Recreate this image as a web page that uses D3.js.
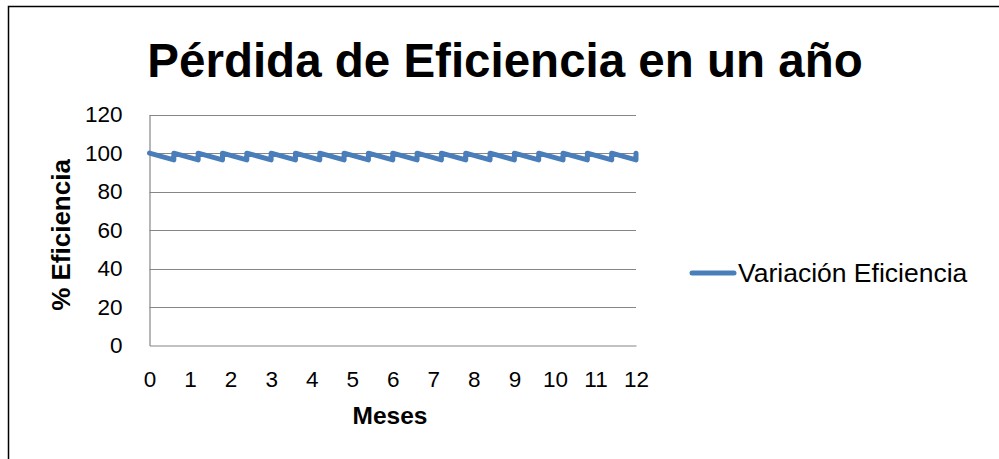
<!DOCTYPE html>
<html>
<head>
<meta charset="utf-8">
<script src="https://cdn.jsdelivr.net/npm/d3@7"></script>
<style>
  body { margin: 0; background: #fff; }
  text { font-family: "Liberation Sans", Arial, sans-serif; fill: #000; }
</style>
</head>
<body>
<svg class="chart" width="999" height="459"></svg>
<script>
// Data: sawtooth, each tooth ~0.6 months
const months = [0, 0.6, 0.6, 1.2, 1.2, 1.8, 1.8, 2.4, 2.4, 3, 3, 3.6, 3.6, 4.2, 4.2,
  4.8, 4.8, 5.4, 5.4, 6, 6, 6.6, 6.6, 7.2, 7.2, 7.8, 7.8, 8.4, 8.4, 9, 9,
  9.6, 9.6, 10.2, 10.2, 10.8, 10.8, 11.4, 11.4, 12, 12];
const efficiency = [100, 96.5, 100, 96.5, 100, 96.5, 100, 96.5, 100, 96.5, 100,
  96.5, 100, 96.5, 100, 96.5, 100, 96.5, 100, 96.5, 100, 96.5, 100, 96.5, 100,
  96.5, 100, 96.5, 100, 96.5, 100, 96.5, 100, 96.5, 100, 96.5, 100, 96.5, 100,
  96.5, 100];
const xTicks = [0, 1, 2, 3, 4, 5, 6, 7, 8, 9, 10, 11, 12];
const yTicks = [0, 20, 40, 60, 80, 100, 120];
const seriesName = "Variación Eficiencia";

const data = months.map((m, i) => ({ month: m, value: efficiency[i] }));

// Plot area
const plot = { left: 149.5, right: 636, top: 114.7, bottom: 345.5 };

const svg = d3.select(".chart");

// outer chart border (only left and top visible in the crop)
svg.append("path")
  .attr("d", "M8.5,459 L8.5,6.5 L999,6.5")
  .attr("fill", "none")
  .attr("stroke", "#000")
  .attr("stroke-width", 1.5);

const xScale = d3.scaleLinear().domain([0, 12]).range([plot.left, plot.right]);
const yScale = d3.scaleLinear().domain([0, 120]).range([plot.bottom, plot.top]);

// gridlines
svg.append("g")
  .selectAll("line")
  .data(yTicks.filter((d) => d > 0))
  .enter()
  .append("line")
  .attr("x1", plot.left)
  .attr("x2", plot.right)
  .attr("y1", (d) => Math.round(yScale(d)) + 0.5)
  .attr("y2", (d) => Math.round(yScale(d)) + 0.5)
  .attr("stroke", "#868686")
  .attr("stroke-width", 1.2);

// y axis
const yAxis = svg.append("g")
  .attr("transform", `translate(${plot.left},0)`)
  .call(d3.axisLeft(yScale).tickValues(yTicks).tickSize(0).tickPadding(27));
yAxis.select(".domain").attr("stroke", "#868686").attr("stroke-width", 1.2);
yAxis.selectAll("text")
  .style("font-family", "'Liberation Sans', Arial, sans-serif")
  .style("font-size", "22.5px")
  .attr("fill", "#000");

// x axis
const xAxis = svg.append("g")
  .attr("transform", `translate(0,${plot.bottom})`)
  .call(d3.axisBottom(xScale).tickValues(xTicks).tickSize(0).tickPadding(26));
xAxis.select(".domain").attr("stroke", "#868686").attr("stroke-width", 1.2);
xAxis.selectAll("text")
  .style("font-family", "'Liberation Sans', Arial, sans-serif")
  .style("font-size", "22.5px")
  .attr("fill", "#000");

// the series line
const line = d3.line()
  .x((d) => xScale(d.month))
  .y((d) => yScale(d.value));

svg.append("path")
  .datum(data)
  .attr("d", line)
  .attr("fill", "none")
  .attr("stroke", "#4a7ebb")
  .attr("stroke-width", 5)
  .attr("stroke-linejoin", "round")
  .attr("stroke-linecap", "round");

// title
svg.append("text")
  .attr("x", 505)
  .attr("y", 77)
  .style("text-anchor", "middle")
  .style("font-size", "47.5px")
  .style("font-weight", "bold")
  .text("Pérdida de Eficiencia en un año");

// axis titles
svg.append("text")
  .attr("x", 390)
  .attr("y", 424)
  .style("text-anchor", "middle")
  .style("font-size", "24.5px")
  .style("font-weight", "bold")
  .text("Meses");

svg.append("text")
  .attr("transform", "translate(70,235) rotate(-90)")
  .style("text-anchor", "middle")
  .style("font-size", "26px")
  .style("font-weight", "bold")
  .text("% Eficiencia");

// legend
svg.append("line")
  .attr("x1", 692)
  .attr("x2", 734)
  .attr("y1", 273)
  .attr("y2", 273)
  .attr("stroke", "#4a7ebb")
  .attr("stroke-width", 5)
  .attr("stroke-linecap", "round");

svg.append("text")
  .attr("x", 738)
  .attr("y", 282)
  .style("font-size", "26.5px")
  .text(seriesName);
</script>
</body>
</html>
